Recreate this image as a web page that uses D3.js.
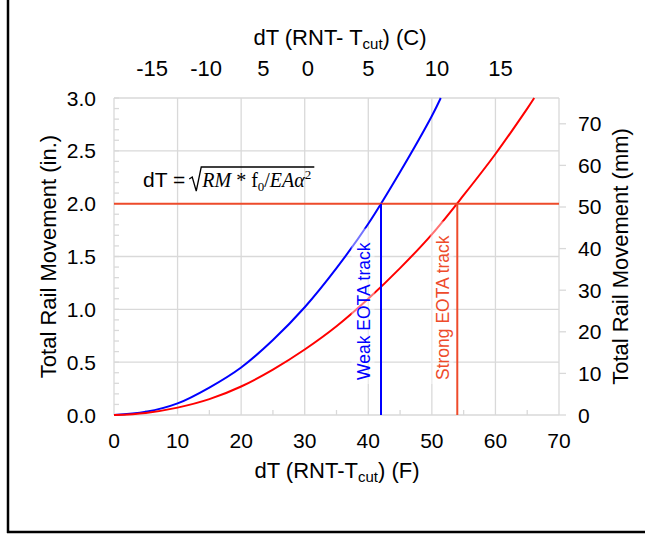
<!DOCTYPE html>
<html>
<head>
<meta charset="utf-8">
<script src="https://cdn.jsdelivr.net/npm/d3@7"></script>
<style>
  body { margin: 0; background: #fff; }
  text { font-family: "Liberation Sans", Arial, sans-serif; }
</style>
</head>
<body>
<svg id="chart" width="645" height="534"></svg>
<script>
// rail movement vs temperature difference, weak / strong EOTA track
const weakX = [0, 5, 10, 15, 20, 25, 30, 35, 40, 45, 50, 51.4]
const weakY = [0, 0.03, 0.11, 0.26, 0.45, 0.71, 1.02, 1.39, 1.81, 2.30, 2.83, 3.0]
const strongX = [0, 5, 10, 15, 20, 25, 30, 35, 40, 45, 50, 55, 60, 65, 66.1]
const strongY = [0, 0.02, 0.07, 0.15, 0.27, 0.43, 0.62, 0.84, 1.10, 1.39, 1.71, 2.08, 2.47, 2.90, 3.0]
const limitIn = 2.0
const weakCross = 42
const strongCross = 54

const xTicks = [0, 10, 20, 30, 40, 50, 60, 70]
const yTicks = [0, 0.5, 1.0, 1.5, 2.0, 2.5, 3.0]
const mmTicks = [0, 10, 20, 30, 40, 50, 60, 70]
// top Celsius labels, as printed (positions in F)
const topLabels = ['-15', '-10', '5', '0', '5', '10', '15']
const topAtF = [6.0, 14.5, 23.5, 30.5, 40.0, 50.8, 60.8]

const svg = d3.select('#chart')
const x = d3.scaleLinear().domain([0, 70]).range([114, 559])
const y = d3.scaleLinear().domain([0, 3]).range([415, 98])
const yMM = d3.scaleLinear().domain([0, 76.2]).range([415, 98])

const grey = '#d9d9d9'
const orange = '#ee4b2b'
const tickFont = 21
const titleFont = 22

// outer frame (left + bottom)
svg.append('line').attr('x1', 8).attr('x2', 8).attr('y1', 0).attr('y2', 533)
  .attr('stroke', '#000').attr('stroke-width', 2.5)
svg.append('line').attr('x1', 7).attr('x2', 645).attr('y1', 532).attr('y2', 532)
  .attr('stroke', '#000').attr('stroke-width', 2.5)

// grid
svg.append('g').selectAll('line').data(xTicks).join('line')
  .attr('x1', d => x(d)).attr('x2', d => x(d)).attr('y1', y(3)).attr('y2', y(0))
  .attr('stroke', grey).attr('stroke-width', 1.3)
svg.append('g').selectAll('line').data(yTicks).join('line')
  .attr('x1', x(0)).attr('x2', x(70)).attr('y1', d => y(d)).attr('y2', d => y(d))
  .attr('stroke', grey).attr('stroke-width', 1.3)

// minor ticks, left (inside) and bottom (inside)
svg.append('g').selectAll('line').data(d3.range(0, 31).map(i => i / 10)).join('line')
  .attr('x1', x(0)).attr('x2', x(0) + 5).attr('y1', d => y(d)).attr('y2', d => y(d))
  .attr('stroke', grey).attr('stroke-width', 1.3)
svg.append('g').selectAll('line').data(d3.range(5, 70, 10)).join('line')
  .attr('x1', d => x(d)).attr('x2', d => x(d)).attr('y1', y(0)).attr('y2', y(0) - 5)
  .attr('stroke', grey).attr('stroke-width', 1.3)
// right ticks (outside)
svg.append('g').selectAll('line').data(mmTicks).join('line')
  .attr('x1', x(70)).attr('x2', x(70) + 7).attr('y1', d => yMM(d)).attr('y2', d => yMM(d))
  .attr('stroke', grey).attr('stroke-width', 1.3)

// tick labels
svg.append('g').selectAll('text').data(xTicks).join('text')
  .attr('x', d => x(d)).attr('y', 448).attr('text-anchor', 'middle')
  .attr('font-size', tickFont).text(d => d)
svg.append('g').selectAll('text').data(yTicks).join('text')
  .attr('x', 96).attr('y', d => y(d) + 7.5).attr('text-anchor', 'end')
  .attr('font-size', tickFont).text(d => d.toFixed(1))
svg.append('g').selectAll('text').data(mmTicks).join('text')
  .attr('x', 578).attr('y', d => yMM(d) + 7.5)
  .attr('font-size', tickFont).text(d => d)
svg.append('g').selectAll('text').data(topLabels).join('text')
  .attr('x', (d, i) => x(topAtF[i])).attr('y', 76).attr('text-anchor', 'middle')
  .attr('font-size', titleFont).text(d => d)

// axis titles
const bt = svg.append('text').attr('x', 337).attr('y', 478).attr('text-anchor', 'middle').attr('font-size', titleFont)
bt.append('tspan').text('dT (RNT-T')
bt.append('tspan').attr('font-size', 15).attr('dy', 4).text('cut')
bt.append('tspan').attr('dy', -4).text(') (F)')

const tt = svg.append('text').attr('x', 340).attr('y', 45).attr('text-anchor', 'middle').attr('font-size', titleFont)
tt.append('tspan').text('dT (RNT- T')
tt.append('tspan').attr('font-size', 15).attr('dy', 4).text('cut')
tt.append('tspan').attr('dy', -4).text(') (C)')

svg.append('text').attr('transform', `translate(56,${(y(0) + y(3)) / 2}) rotate(-90)`)
  .attr('text-anchor', 'middle').attr('font-size', titleFont).text('Total Rail Movement (in.)')
svg.append('text').attr('transform', `translate(628,${(y(0) + y(3)) / 2}) rotate(-90)`)
  .attr('text-anchor', 'middle').attr('font-size', titleFont).text('Total Rail Movement (mm)')

// curves
const line = d3.line().x(d => x(d[0])).y(d => y(d[1])).curve(d3.curveCatmullRom)
svg.append('path').datum(d3.zip(weakX, weakY)).attr('d', line)
  .attr('fill', 'none').attr('stroke', '#0000ff').attr('stroke-width', 2)
svg.append('path').datum(d3.zip(strongX, strongY)).attr('d', line)
  .attr('fill', 'none').attr('stroke', '#ff0000').attr('stroke-width', 2)

// 2.0 in limit and crossing lines
svg.append('line').attr('x1', x(0)).attr('x2', x(70)).attr('y1', y(limitIn)).attr('y2', y(limitIn))
  .attr('stroke', orange).attr('stroke-width', 2)
svg.append('line').attr('x1', x(weakCross)).attr('x2', x(weakCross)).attr('y1', y(limitIn)).attr('y2', y(0))
  .attr('stroke', '#0000ff').attr('stroke-width', 2)
svg.append('line').attr('x1', x(strongCross)).attr('x2', x(strongCross)).attr('y1', y(limitIn)).attr('y2', y(0))
  .attr('stroke', orange).attr('stroke-width', 2)

// rotated labels with a faint white box behind
function trackLabel(px, txt, color) {
  const g = svg.append('g').attr('transform', `translate(${px},380) rotate(-90)`)
  const rect = g.append('rect').attr('fill', '#fff').attr('fill-opacity', 0.45)
  const t = g.append('text').attr('font-size', 17.5).attr('fill', color).text(txt)
  const w = t.node().getComputedTextLength()
  rect.attr('x', -4).attr('y', -18).attr('width', w + 18).attr('height', 23)
}
trackLabel(369.5, 'Weak EOTA track', '#0000ff')
trackLabel(448.5, 'Strong EOTA track', orange)

// formula dT = sqrt(RM * f0 / EA alpha^2)
const fy = 187
const f1 = svg.append('text').attr('x', 143).attr('y', fy).attr('font-size', 21).text('dT = ')
const rx = 143 + f1.node().getComputedTextLength() + 4
const ft = svg.append('text').attr('x', rx + 13).attr('y', fy).attr('font-size', 20)
  .style('font-family', '"Liberation Serif", serif')
ft.append('tspan').attr('font-style', 'italic').text('RM')
ft.append('tspan').text(' * f')
ft.append('tspan').attr('font-size', 13).attr('dy', 4).text('0')
ft.append('tspan').attr('dy', -4).text('/')
ft.append('tspan').attr('font-style', 'italic').text('EA\u03b1')
ft.append('tspan').attr('font-size', 13).attr('dy', -8).text('2')
const fw = ft.node().getComputedTextLength()
svg.append('path')
  .attr('d', `M${rx},${fy - 8} L${rx + 3},${fy - 10} L${rx + 7},${fy + 4} L${rx + 12},${fy - 20} L${rx + 16 + fw},${fy - 20}`)
  .attr('fill', 'none').attr('stroke', '#000').attr('stroke-width', 1.3)
</script>
</body>
</html>
